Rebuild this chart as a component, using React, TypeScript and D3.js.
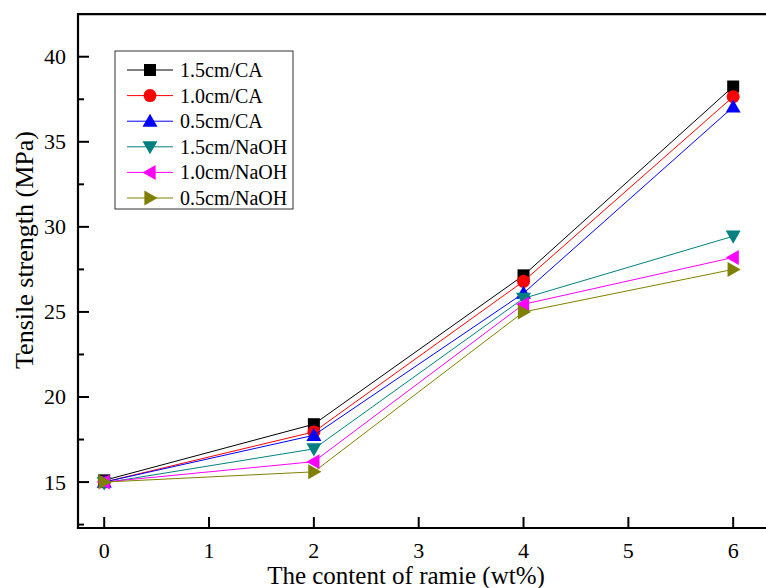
import React from "react";
import * as d3 from "d3";

// Ramie content (wt%) on the x axis
const ramieContent = [0, 2, 4, 6];

// Tensile strength (MPa) for each fibre length / treatment
const seriesNames = ["1.5cm/CA", "1.0cm/CA", "0.5cm/CA", "1.5cm/NaOH", "1.0cm/NaOH", "0.5cm/NaOH"];
const cm15CA = [15.1, 18.4, 27.15, 38.25];
const cm10CA = [15.0, 17.95, 26.8, 37.65];
const cm05CA = [15.0, 17.75, 26.1, 37.05];
const cm15NaOH = [14.95, 16.95, 25.8, 29.45];
const cm10NaOH = [15.0, 16.2, 25.45, 28.2];
const cm05NaOH = [15.0, 15.6, 25.0, 27.5];
const seriesValues = [cm15CA, cm10CA, cm05CA, cm15NaOH, cm10NaOH, cm05NaOH];

const seriesColors = ["#000000", "#ff0000", "#0000ff", "#008080", "#ff00ff", "#808000"];
const seriesSymbols = ["square", "circle", "triangleUp", "triangleDown", "triangleLeft", "triangleRight"];

const xTicks = [0, 1, 2, 3, 4, 5, 6];
const yTicks = [15, 20, 25, 30, 35, 40];
const yMinorTicks = [12.5, 17.5, 22.5, 27.5, 32.5, 37.5];

const W = 766;
const H = 588;
const FONT = "'Liberation Serif', 'Times New Roman', serif";

const x = d3.scaleLinear().domain([-0.25, 6.5]).range([78, 785.6]);
const y = d3.scaleLinear().domain([12.3, 42.5]).range([528, 14.2]);

function Marker({ kind, cx, cy, color }: { kind: string; cx: number; cy: number; color: string }) {
  const s = 6;
  const t = 7.5;
  switch (kind) {
    case "square":
      return <rect x={cx - s} y={cy - s} width={2 * s} height={2 * s} fill={color} />;
    case "circle":
      return <circle cx={cx} cy={cy} r={6.5} fill={color} />;
    case "triangleUp":
      return <path d={`M${cx},${cy - t} L${cx + t},${cy + t * 0.75} L${cx - t},${cy + t * 0.75} Z`} fill={color} />;
    case "triangleDown":
      return <path d={`M${cx},${cy + t} L${cx + t},${cy - t * 0.75} L${cx - t},${cy - t * 0.75} Z`} fill={color} />;
    case "triangleLeft":
      return <path d={`M${cx - t},${cy} L${cx + t * 0.75},${cy - t} L${cx + t * 0.75},${cy + t} Z`} fill={color} />;
    default:
      return <path d={`M${cx + t},${cy} L${cx - t * 0.75},${cy - t} L${cx - t * 0.75},${cy + t} Z`} fill={color} />;
  }
}

export default function App() {
  const line = d3
    .line<[number, number]>()
    .x((d) => x(d[0]))
    .y((d) => y(d[1]));

  const legendX = 115;
  const legendY = 51;
  const legendRow = 25.6;

  return (
    <svg
      width={W}
      height={H}
      style={{ position: "absolute", left: 0, top: 0, background: "#fff" }}
      fontFamily={FONT}
    >
      <rect x={0} y={0} width={W} height={H} fill="#fff" />

      {/* series: line then symbols, later series drawn on top */}
      {seriesValues.map((vals, i) => {
        const pts: [number, number][] = ramieContent.map((c, j) => [c, vals[j]]);
        return (
          <g key={seriesNames[i]}>
            <path d={line(pts) || ""} fill="none" stroke={seriesColors[i]} strokeWidth={1} />
            {pts.map((p, j) => (
              <Marker key={j} kind={seriesSymbols[i]} cx={x(p[0])} cy={y(p[1])} color={seriesColors[i]} />
            ))}
          </g>
        );
      })}

      {/* frame */}
      <line x1={x.range()[0]} x2={W + 2} y1={y(42.5)} y2={y(42.5)} stroke="#000" strokeWidth={2.2} />
      <line x1={x.range()[0]} x2={x.range()[0]} y1={y(42.5) - 1.1} y2={y(12.3) + 1.1} stroke="#000" strokeWidth={2.2} />
      <line x1={x.range()[0] - 1.1} x2={W + 2} y1={y(12.3)} y2={y(12.3)} stroke="#000" strokeWidth={2.2} />

      {/* x ticks (inward) and labels */}
      {xTicks.map((t) => (
        <g key={`xt${t}`}>
          <line x1={x(t)} x2={x(t)} y1={y(12.3)} y2={y(12.3) - 11} stroke="#000" strokeWidth={2} />
          <text x={x(t)} y={558} textAnchor="middle" fontSize={22}>
            {t}
          </text>
        </g>
      ))}

      {/* y ticks (inward) and labels */}
      {yTicks.map((t) => (
        <g key={`yt${t}`}>
          <line x1={x.range()[0]} x2={x.range()[0] + 11} y1={y(t)} y2={y(t)} stroke="#000" strokeWidth={2} />
          <text x={66} y={y(t) + 7.5} textAnchor="end" fontSize={22}>
            {t}
          </text>
        </g>
      ))}
      {yMinorTicks.map((t) => (
        <line key={`ym${t}`} x1={x.range()[0]} x2={x.range()[0] + 6} y1={y(t)} y2={y(t)} stroke="#000" strokeWidth={2} />
      ))}

      {/* axis titles */}
      <text x={406} y={584} textAnchor="middle" fontSize={25}>
        The content of ramie (wt%)
      </text>
      <text transform="translate(33,250) rotate(-90)" textAnchor="middle" fontSize={26}>
        Tensile strength (MPa)
      </text>

      {/* legend */}
      <rect x={legendX} y={legendY} width={178} height={158} fill="#fff" stroke="#333" strokeWidth={1} />
      {seriesNames.map((name, i) => {
        const cy = 70 + i * legendRow;
        return (
          <g key={`lg${name}`}>
            <line x1={127} x2={173} y1={cy} y2={cy} stroke={seriesColors[i]} strokeWidth={1} />
            <Marker kind={seriesSymbols[i]} cx={150} cy={cy} color={seriesColors[i]} />
            <text x={180} y={cy + 7} fontSize={20}>
              {name}
            </text>
          </g>
        );
      })}
    </svg>
  );
}
